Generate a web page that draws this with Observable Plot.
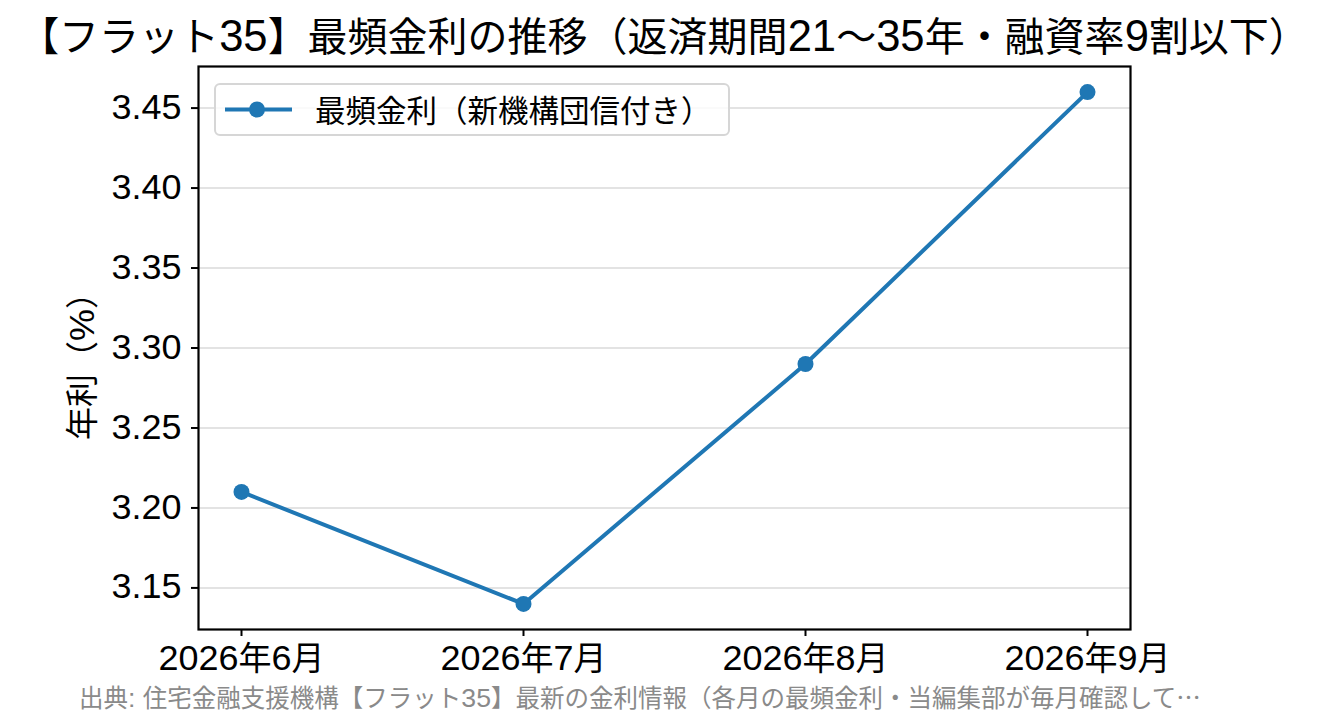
<!DOCTYPE html>
<html><head><meta charset="utf-8">
<script src="https://cdn.jsdelivr.net/npm/d3@7"></script>
<script src="https://cdn.jsdelivr.net/npm/@observablehq/plot@0.6"></script>
<style>
body{margin:0;background:#fff;}
#wrap{position:relative;width:1328px;height:725px;overflow:hidden;background:#fff;font-family:"Noto Sans CJK JP",sans-serif;color:#000}
#title{position:absolute;left:0;top:0;width:1328px;height:68px;line-height:68px;text-align:center;font-size:40px;white-space:nowrap}
#chart{position:absolute;left:0;top:56px}
#legend{position:absolute;left:214px;top:83px;width:512px;height:49px;border:2px solid #d6d6d6;border-radius:6px;background:rgba(255,255,255,0.8);box-sizing:content-box}
#legend svg{position:absolute;left:7px;top:0}
#legend .lab{position:absolute;left:99px;top:0;line-height:49px;font-size:30.5px;white-space:nowrap}
#caption{position:absolute;left:79px;top:682px;height:30px;line-height:30px;font-size:24.5px;color:#8a8a8a;white-space:nowrap}
</style>
</head><body>
<div id="wrap">
  <div id="title"></div>
  <div id="chart"></div>
  <div id="legend"></div>
  <div id="caption"></div>
</div>
<script>
const titleText = "【フラット35】最頻金利の推移（返済期間21〜35年・融資率9割以下）";
const captionText = "出典: 住宅金融支援機構【フラット35】最新の金利情報（各月の最頻金利・当編集部が毎月確認して…";
const yLabel = "年利（%）";
const seriesName = "最頻金利（新機構団信付き）";
const months = ["2026年6月", "2026年7月", "2026年8月", "2026年9月"];
const rates = [3.21, 3.14, 3.29, 3.46];
const yTicks = [3.15, 3.20, 3.25, 3.30, 3.35, 3.40, 3.45];
const color = "#1f77b4";

const data = months.map((m, i) => ({month: m, rate: rates[i]}));
const CJK = '"Noto Sans CJK JP"';
const LATIN = '"Liberation Sans"';
const LATIN_SCALE = 1.09;

const isCJK = ch => /[\u2026\u3000-\u30ff\u3400-\u9fff\uff00-\uffef]/.test(ch);
function runs(str) {
  const out = [];
  for (const ch of str) {
    const c = isCJK(ch);
    if (out.length && out[out.length - 1].c === c) out[out.length - 1].s += ch;
    else out.push({s: ch, c});
  }
  return out;
}
function fillHtml(el, str) {
  el.textContent = "";
  const fs = parseFloat(getComputedStyle(el).fontSize);
  for (const r of runs(str)) {
    const sp = document.createElement("span");
    sp.textContent = r.s;
    if (!r.c) { sp.style.fontFamily = LATIN; sp.style.fontSize = (fs * LATIN_SCALE) + "px"; }
    el.appendChild(sp);
  }
}
function mixSvg(svg) {
  svg.querySelectorAll("text").forEach(t => {
    if (t.querySelector("tspan")) return;
    const s = t.textContent;
    const fs = parseFloat(getComputedStyle(t).fontSize);
    t.textContent = "";
    for (const r of runs(s)) {
      const ts = document.createElementNS("http://www.w3.org/2000/svg", "tspan");
      ts.textContent = r.s;
      if (!r.c) { ts.setAttribute("font-family", LATIN); ts.setAttribute("font-size", fs * LATIN_SCALE); }
      t.appendChild(ts);
    }
  });
}

fillHtml(document.getElementById("title"), titleText);
fillHtml(document.getElementById("caption"), captionText);

const legend = document.getElementById("legend");
legend.innerHTML = `<svg width="80" height="49"><line x1="2" x2="69" y1="24.5" y2="24.5" stroke="${color}" stroke-width="4"/><circle cx="34" cy="24.5" r="8" fill="${color}"/></svg><span class="lab"></span>`;
fillHtml(legend.querySelector(".lab"), seriesName);

const chart = Plot.plot({
  width: 1328,
  height: 624,
  marginTop: 10,
  marginBottom: 51,
  marginLeft: 198,
  marginRight: 198,
  style: {fontFamily: CJK, fontSize: "33px", color: "#000", background: "#fff", overflow: "visible"},
  x: {type: "point", domain: months, padding: 0.15},
  y: {domain: [3.124, 3.476]},
  marks: [
    Plot.gridY(yTicks, {stroke: "#e3e3e3", strokeOpacity: 1, strokeWidth: 2}),
    Plot.frame({stroke: "#000", strokeWidth: 2.2}),
    Plot.axisX({tickSize: 7, tickPadding: 10, label: null, fontSize: 33, strokeWidth: 2}),
    Plot.axisY(yTicks, {tickSize: 7, tickPadding: 10, tickFormat: d3.format(".2f"), label: null, fontSize: 33, strokeWidth: 2}),
    Plot.text([yLabel], {text: d => d, frameAnchor: "left", textAnchor: "middle", rotate: -90, dx: -115, dy: 10, fontSize: 33}),
    Plot.line(data, {x: "month", y: "rate", stroke: color, strokeWidth: 4}),
    Plot.dot(data, {x: "month", y: "rate", fill: color, r: 8})
  ]
});
document.getElementById("chart").appendChild(chart);
mixSvg(chart);
</script>
</body></html>
